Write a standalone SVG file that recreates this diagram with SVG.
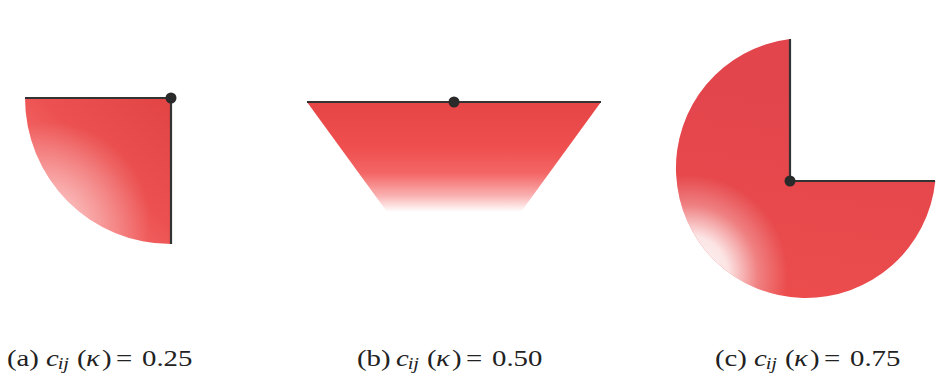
<svg xmlns="http://www.w3.org/2000/svg" width="937" height="382" viewBox="0 0 937 382">
<style>
.edge{fill:none;stroke:#333;stroke-width:2.2;stroke-linecap:butt}
.dot{fill:#2a2a2a}
.cap{font-family:"Liberation Serif",serif;font-size:24px;fill:#222}
.it{font-style:italic}
.sub{font-style:italic;font-size:17px}
</style>
<defs>
<linearGradient id="ga" gradientUnits="userSpaceOnUse" x1="171" y1="98" x2="44" y2="225">
<stop offset="0" stop-color="#e24444"/>
<stop offset="0.5" stop-color="#ec5050"/>
<stop offset="0.8" stop-color="#f46868"/>
</linearGradient>
<radialGradient id="wa" gradientUnits="userSpaceOnUse" cx="50" cy="222" r="100">
<stop offset="0" stop-color="#ffffff" stop-opacity="0.7"/>
<stop offset="0.35" stop-color="#ffffff" stop-opacity="0.45"/>
<stop offset="1" stop-color="#ffffff" stop-opacity="0"/>
</radialGradient>
<linearGradient id="gb" gradientUnits="userSpaceOnUse" x1="0" y1="102" x2="0" y2="212">
<stop offset="0" stop-color="#e64545"/>
<stop offset="0.42" stop-color="#ef4f4f"/>
<stop offset="0.65" stop-color="#f46666"/>
<stop offset="0.85" stop-color="#fab0b0"/>
<stop offset="1" stop-color="#ffffff"/>
</linearGradient>
<linearGradient id="gc" gradientUnits="userSpaceOnUse" x1="790" y1="100" x2="760" y2="298">
<stop offset="0" stop-color="#e2454c"/>
<stop offset="1" stop-color="#ec4c4c"/>
</linearGradient>
<radialGradient id="wc" gradientUnits="userSpaceOnUse" cx="688" cy="275" r="100">
<stop offset="0" stop-color="#ffffff" stop-opacity="1"/>
<stop offset="0.4" stop-color="#ffffff" stop-opacity="0.85"/>
<stop offset="0.7" stop-color="#ffffff" stop-opacity="0.3"/>
<stop offset="1" stop-color="#ffffff" stop-opacity="0"/>
</radialGradient>
</defs>
<rect width="937" height="382" fill="#ffffff"/>

<g id="shape-a">
<path d="M171,98 H25 A146,146 0 0 0 171,244 Z" fill="url(#ga)"/>
<path d="M171,98 H25 A146,146 0 0 0 171,244 Z" fill="url(#wa)"/>
</g>
<g id="shape-b">
<path d="M307,102 H601 L518,216 H390 Z" fill="url(#gb)"/>
</g>
<g id="shape-c">
<path d="M790,181 V39 A130,130 0 1 0 935.3,181 Z" fill="url(#gc)"/>
<path d="M790,181 V39 A130,130 0 1 0 935.3,181 Z" fill="url(#wc)"/>
</g>

<g id="connectors">
<path class="edge" d="M25,98 H171 V244"/>
<path class="edge" d="M307,102 H601"/>
<path class="edge" d="M790,39 V181 H935"/>
</g>

<g id="node-a"><circle class="dot" cx="171" cy="98" r="5.5"/></g>
<g id="node-b"><circle class="dot" cx="454" cy="102" r="5.5"/></g>
<g id="node-c"><circle class="dot" cx="790" cy="181" r="5.5"/></g>

<g id="caption-a">
<text class="cap" transform="translate(7,366) scale(1.2,1)"><tspan x="0">(a)</tspan><tspan class="it" x="32.5">c</tspan><tspan class="sub" x="42.2" y="3">ij</tspan><tspan x="58.3" y="0">(</tspan><tspan class="it" x="65.8">κ</tspan><tspan x="79.2">)</tspan><tspan x="90.8">=</tspan><tspan x="112.5">0.25</tspan></text>
</g>
<g id="caption-b">
<text class="cap" transform="translate(357,366) scale(1.2,1)"><tspan x="0">(b)</tspan><tspan class="it" x="32.5">c</tspan><tspan class="sub" x="42.2" y="3">ij</tspan><tspan x="58.3" y="0">(</tspan><tspan class="it" x="65.8">κ</tspan><tspan x="79.2">)</tspan><tspan x="90.8">=</tspan><tspan x="112.5">0.50</tspan></text>
</g>
<g id="caption-c">
<text class="cap" transform="translate(715,366) scale(1.2,1)"><tspan x="0">(c)</tspan><tspan class="it" x="32.5">c</tspan><tspan class="sub" x="42.2" y="3">ij</tspan><tspan x="58.3" y="0">(</tspan><tspan class="it" x="65.8">κ</tspan><tspan x="79.2">)</tspan><tspan x="90.8">=</tspan><tspan x="112.5">0.75</tspan></text>
</g>
</svg>
